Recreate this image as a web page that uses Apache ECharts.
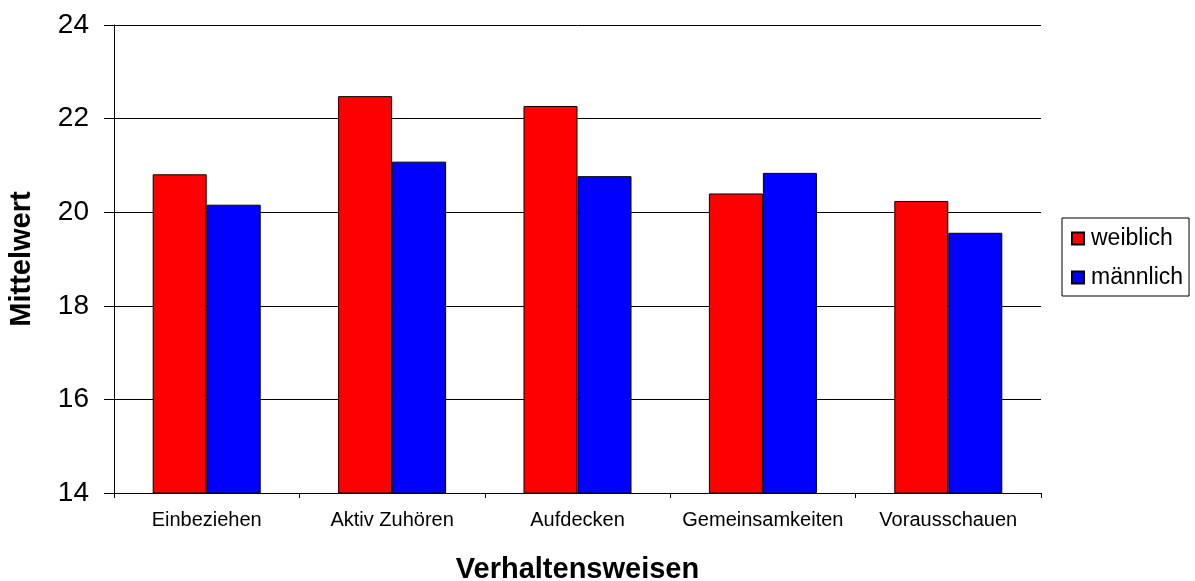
<!DOCTYPE html>
<html>
<head>
<meta charset="utf-8">
<script src="https://cdn.jsdelivr.net/npm/echarts@6/dist/echarts.min.js"></script>
<style>
  html, body { margin: 0; padding: 0; background: #fff; }
  #chart { width: 1195px; height: 581px; }
</style>
</head>
<body>
<div id="chart"></div>
<script>
// Mean scores per behaviour, split by gender
const categories = ['Einbeziehen', 'Aktiv Zuhören', 'Aufdecken', 'Gemeinsamkeiten', 'Vorausschauen'];
const weiblich = [20.81, 22.48, 22.27, 20.40, 20.24];
const maennlich = [20.16, 21.08, 20.77, 20.84, 19.56];
const seriesNames = ['weiblich', 'männlich'];
const yTicks = [14, 16, 18, 20, 22, 24];

const font = 'Liberation Sans, Arial, Helvetica, sans-serif';
const chart = echarts.init(document.getElementById('chart'), null, { renderer: 'canvas' });

chart.setOption({
  animation: false,
  backgroundColor: '#ffffff',
  grid: { left: 114, right: 154, top: 25, bottom: 88, containLabel: false, outerBoundsMode: 'none' },
  legend: {
    orient: 'vertical',
    left: 1062,
    top: 218,
    data: seriesNames,
    itemWidth: 12,
    itemHeight: 12,
    itemGap: 16,
    padding: [9, 6, 7, 9],
    borderColor: '#000',
    borderWidth: 1,
    icon: 'rect',
    textStyle: { fontFamily: font, fontSize: 23, color: '#000', padding: [0, 0, 0, 2] }
  },
  xAxis: {
    type: 'category',
    data: categories,
    name: 'Verhaltensweisen',
    nameLocation: 'middle',
    nameGap: 62,
    nameTextStyle: { fontFamily: font, fontSize: 29, fontWeight: 'bold', color: '#000' },
    axisLine: { lineStyle: { color: '#000', width: 1 } },
    axisTick: { show: true, length: 5, lineStyle: { color: '#000' } },
    axisLabel: { interval: 0, fontFamily: font, fontSize: 20, color: '#000', margin: 17 }
  },
  yAxis: {
    type: 'value',
    min: yTicks[0],
    max: yTicks[yTicks.length - 1],
    interval: 2,
    name: 'Mittelwert',
    nameLocation: 'middle',
    nameGap: 78,
    nameTextStyle: { fontFamily: font, fontSize: 29, fontWeight: 'bold', color: '#000' },
    axisLine: { show: true, lineStyle: { color: '#000', width: 1 } },
    axisTick: { show: true, length: 10, lineStyle: { color: '#000' } },
    axisLabel: { fontFamily: font, fontSize: 28, color: '#000', margin: 25 },
    splitLine: { show: true, lineStyle: { color: '#000', width: 1 } }
  },
  series: [
    {
      name: seriesNames[0],
      type: 'bar',
      data: weiblich,
      barWidth: 54,
      barGap: '0%',
      itemStyle: { color: '#ff0000', borderColor: '#000', borderWidth: 1 }
    },
    {
      name: seriesNames[1],
      type: 'bar',
      data: maennlich,
      barWidth: 54,
      barGap: '0%',
      itemStyle: { color: '#0000ff', borderColor: '#000', borderWidth: 1 }
    }
  ]
});
</script>
</body>
</html>
